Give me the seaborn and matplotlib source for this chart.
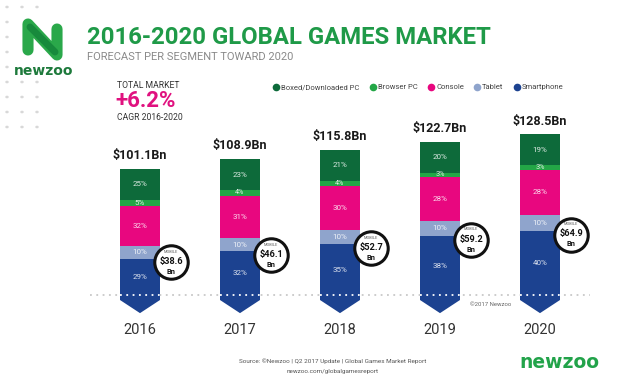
import numpy as np
import pandas as pd
import matplotlib.pyplot as plt
from matplotlib.lines import Line2D
from matplotlib.patches import Polygon
import seaborn as sns

# Data
years = ["2016", "2017", "2018", "2019", "2020"]
totals = [101.1, 108.9, 115.8, 122.7, 128.5]
mobile = [38.6, 46.1, 52.7, 59.2, 64.9]
segments = ["Smartphone", "Tablet", "Console", "Browser PC", "Boxed/Downloaded PC"]
pct_smartphone = [29, 32, 35, 38, 40]
pct_tablet = [10, 10, 10, 10, 10]
pct_console = [32, 31, 30, 28, 28]
pct_browser = [5, 4, 4, 3, 3]
pct_boxed = [25, 23, 21, 20, 19]

colors = {
    "Smartphone": "#1c4290",
    "Tablet": "#8fa4cc",
    "Console": "#e8077f",
    "Browser PC": "#23a646",
    "Boxed/Downloaded PC": "#0d6a3a",
}

pct = pd.DataFrame({
    "Smartphone": pct_smartphone,
    "Tablet": pct_tablet,
    "Console": pct_console,
    "Browser PC": pct_browser,
    "Boxed/Downloaded PC": pct_boxed,
}, index=years)

# scale percentages so every stack reaches the market total
vals = pct.div(pct.sum(axis=1), axis=0).mul(totals, axis=0)
cum = vals.cumsum(axis=1)

sns.set_style("white")
plt.rcParams['font.family'] = ['Roboto', 'DejaVu Sans']

W, H = 640, 385
fig = plt.figure(figsize=(6.4, 3.85), dpi=100)
ax = fig.add_axes([90 / W, 1 - 320 / H, 500 / W, (320 - 82.5) / H])

def fx(px):
    return px / W

def fy(py):
    return 1 - py / H

# baseline dotted line behind the bars
ax.axhline(0, color="#c8c8c8", lw=1.3, ls=(0, (1, 2.5)), zorder=0)

# stacked bars: draw cumulative sums from the top down so lower layers cover
for seg in segments[::-1]:
    df = pd.DataFrame({"year": years, "value": cum[seg].values})
    sns.barplot(data=df, x="year", y="value", color=colors[seg], width=0.4,
                saturation=1, errorbar=None, linewidth=0, edgecolor="none",
                ax=ax, zorder=2)

bw = 0.4
for i, yr in enumerate(years):
    # arrow tip under each bar
    tip = Polygon([(i - bw / 2, 0.5), (i + bw / 2, 0.5), (i + bw / 2, -4),
                   (i, -14.5), (i - bw / 2, -4)], closed=True,
                  facecolor=colors["Smartphone"], edgecolor="none", zorder=2)
    ax.add_patch(tip)
    # white dots across the bar
    ax.hlines(0, i - bw / 2, i + bw / 2, color="white", lw=1.3,
              ls=(0, (1, 2.5)), zorder=3)

    # segment percentage labels
    bottom = 0
    for seg in segments:
        v = vals.loc[yr, seg]
        p = pct.loc[yr, seg]
        fs = 5.8 if p >= 5 else 5.2
        ax.text(i, bottom + v / 2, f"{p}%", ha="center", va="center",
                color="white", alpha=0.85, fontsize=fs, zorder=4)
        bottom += v

    # totals above the bars
    ax.text(i, totals[i] + 5.5, f"${totals[i]}Bn", ha="center", va="bottom",
            fontsize=9, fontweight="bold", color="#1a1a1a", zorder=4)

    # mobile bubble
    cy = vals.loc[yr, "Smartphone"] - 3
    cx = i + 0.31
    ax.scatter([cx], [cy], s=580, facecolor="white", edgecolor="#111111",
               linewidth=2.2, zorder=5)
    ax.annotate("MOBILE", (cx, cy), xytext=(0, 7.5), textcoords="offset points",
                ha="center", va="center", fontsize=2.8, color="#555555", zorder=6)
    ax.annotate(f"${mobile[i]}", (cx, cy), xytext=(0, 0.5), textcoords="offset points",
                ha="center", va="center", fontsize=6.6, fontweight="bold",
                color="#111111", zorder=6)
    ax.annotate("Bn", (cx, cy), xytext=(0, -7), textcoords="offset points",
                ha="center", va="center", fontsize=5.3, fontweight="bold",
                color="#111111", zorder=6)

ax.set_xlim(-0.5, 4.5)
ax.set_ylim(-20, 170)
ax.set_xlabel("")
ax.set_ylabel("")
ax.set_yticks([])
ax.tick_params(axis="x", length=0, pad=2, labelsize=10.5, labelcolor="#333333")
sns.despine(ax=ax, left=True, bottom=True)
ax.patch.set_alpha(0)

ax.text(3.51, -7.5, "©2017 Newzoo", fontsize=4.3, color="#666666",
        ha="center", va="center")

# background dots on the left
for x in [7, 22, 37]:
    for y in range(7, 140, 15):
        if 15 < x < 75 and 14 < y < 80:
            continue
        fig.patches.append(plt.Circle((fx(x), fy(y)), 0.0016, color="#d8d8d8",
                                      transform=fig.transFigure, figure=fig))

# logo mark
fig.add_artist(Line2D([fx(28), fx(28), fx(57), fx(57)],
                      [fy(50), fy(24), fy(55), fy(29)],
                      color="#2aa84a", lw=8, solid_capstyle="round",
                      solid_joinstyle="round", transform=fig.transFigure))
fig.add_artist(Line2D([fx(30), fx(55)], [fy(27), fy(52)], color="#178a3c",
                      lw=5, solid_capstyle="round", transform=fig.transFigure))
fig.text(fx(44), fy(71), "newzoo", ha="center", va="center", fontsize=10,
         fontweight="bold", color="#1e7a3c", family="DejaVu Sans")

# titles
fig.text(fx(87), fy(38), "2016-2020 GLOBAL GAMES MARKET", ha="left", va="center",
         fontsize=17.2, fontweight="bold", color="#1f9a48")
fig.text(fx(87), fy(57), "FORECAST PER SEGMENT TOWARD 2020", ha="left", va="center",
         fontsize=8.0, color="#8a8a8a")

fig.text(fx(117), fy(85), "TOTAL MARKET", ha="left", va="center", fontsize=6.2,
         color="#333333")
fig.text(fx(115), fy(101), "+6.2%", ha="left", va="center", fontsize=16,
         fontweight="bold", color="#e0117f")
fig.text(fx(117), fy(118), "CAGR 2016-2020", ha="left", va="center", fontsize=6.2,
         color="#333333")

# legend
handles = [Line2D([0], [0], marker="o", ls="none", markersize=5.5,
                  markerfacecolor=colors[s], markeredgecolor="none")
           for s in segments[::-1]]
fig.legend(handles, segments[::-1], loc="center", bbox_to_anchor=(fx(418), fy(87)),
           ncol=5, frameon=False, fontsize=5.5, handletextpad=0.2,
           columnspacing=1.2, handlelength=1.0, labelcolor="#444444")

# footer
fig.text(fx(333), fy(361), "Source: ©Newzoo | Q2 2017 Update | Global Games Market Report",
         ha="center", va="center", fontsize=4.6, color="#555555")
fig.text(fx(333), fy(371), "newzoo.com/globalgamesreport", ha="center", va="center",
         fontsize=4.6, color="#555555")
fig.text(fx(559), fy(362), "newzoo", ha="center", va="center", fontsize=13.5,
         fontweight="bold", color="#22a34a", family="DejaVu Sans")

fig.savefig("out.png", dpi=100, facecolor="white")
